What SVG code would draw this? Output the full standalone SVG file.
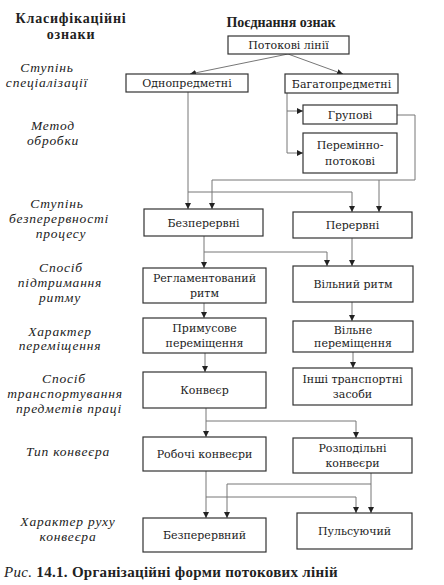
<svg xmlns="http://www.w3.org/2000/svg" width="444" height="585" viewBox="0 0 444 585">
<defs>
<marker id="ah" viewBox="0 0 10 10" refX="10" refY="5" markerWidth="6" markerHeight="6" orient="auto" markerUnits="userSpaceOnUse">
<path d="M0,0 L10,5 L0,10 Z" fill="#222"/>
</marker>
</defs>
<style>
.box{fill:#fff;stroke:#333;stroke-width:1.2}
.t{font-size:11px;fill:#222;text-anchor:middle}
.lab{font-size:13.5px;font-style:italic;fill:#222;text-anchor:middle;letter-spacing:0.8px}
.hd{font-size:14px;font-weight:bold;fill:#222;text-anchor:middle}
.c{fill:none;stroke:#777;stroke-width:1}
.a{marker-end:url(#ah)}
.cap{font-size:15px;fill:#222;letter-spacing:0.3px}
</style>
<rect width="444" height="585" fill="#fff"/>
<g id="headers" font-family="'Liberation Serif', serif">
<text class="hd" x="71" y="23" letter-spacing="0.8">Класифікаційні</text>
<text class="hd" x="71" y="39" letter-spacing="0.8">ознаки</text>
<text class="hd" x="281" y="27">Поєднання ознак</text>
</g>
<g id="labels" font-family="'Liberation Serif', serif">
<text class="lab" x="47" y="72">Ступінь</text>
<text class="lab" x="47" y="87">спеціалізації</text>
<text class="lab" x="53" y="130">Метод</text>
<text class="lab" x="53" y="145">обробки</text>
<text class="lab" x="57" y="208">Ступінь</text>
<text class="lab" x="59" y="223">безперервності</text>
<text class="lab" x="61" y="238">процесу</text>
<text class="lab" x="61" y="272">Спосіб</text>
<text class="lab" x="60" y="287">підтримання</text>
<text class="lab" x="60" y="302">ритму</text>
<text class="lab" x="60" y="336">Характер</text>
<text class="lab" x="60" y="350">переміщення</text>
<text class="lab" x="64" y="383">Спосіб</text>
<text class="lab" x="65" y="398">транспортування</text>
<text class="lab" x="69" y="413">предметів праці</text>
<text class="lab" x="68" y="456">Тип конвеєра</text>
<text class="lab" x="68" y="526">Характер руху</text>
<text class="lab" x="68" y="541">конвеєра</text>
</g>
<g id="connectors">
<path class="c a" d="M288,54 L190,74"/>
<path class="c a" d="M288,54 L343,74"/>
<path class="c" d="M287,93 V153"/>
<path class="c a" d="M287,111 H303"/>
<path class="c a" d="M287,153 H303"/>
<path class="c a" d="M188,92 V209"/>
<path class="c a" d="M188,192 H352 V212"/>
<path class="c a" d="M397,115 H415 V180 H212 V209"/>
<path class="c a" d="M379,180 V212"/>
<path class="c a" d="M204,236 V268"/>
<path class="c a" d="M204,252 H327 V266"/>
<path class="c a" d="M352,238 V266"/>
<path class="c a" d="M204,303 V318"/>
<path class="c a" d="M352,302 V321"/>
<path class="c a" d="M205,353 V372"/>
<path class="c a" d="M353,352 V368"/>
<path class="c a" d="M206,408 V437"/>
<path class="c a" d="M206,421 H356 V438"/>
<path class="c a" d="M206,471 V518"/>
<path class="c a" d="M206,497 H356 V513"/>
<path class="c a" d="M371,473 V513"/>
<path class="c a" d="M371,484 H227 V518"/>
</g>
<g id="nodes" font-family="'DejaVu Serif', 'Liberation Serif', serif">
<g id="n-potokovi"><rect class="box" x="228" y="36" width="121" height="18"/><text class="t" x="288.5" y="49">Потокові лінії</text></g>
<g id="n-odnopredmetni"><rect class="box" x="126" y="74" width="122" height="18"/><text class="t" x="187" y="87">Однопредметні</text></g>
<g id="n-bahatopredmetni"><rect class="box" x="285" y="74" width="113" height="19"/><text class="t" x="341.5" y="87.5">Багатопредметні</text></g>
<g id="n-hrupovi"><rect class="box" x="303" y="105" width="94" height="19"/><text class="t" x="350" y="118.5">Групові</text></g>
<g id="n-pereminno"><rect class="box" x="303" y="133" width="94" height="40"/><text class="t" x="350" y="149">Перемінно-</text><text class="t" x="350" y="165">потокові</text></g>
<g id="n-bezperervni"><rect class="box" x="144" y="209" width="119" height="27"/><text class="t" x="203.5" y="226.5">Безперервні</text></g>
<g id="n-perervni"><rect class="box" x="293" y="212" width="119" height="26"/><text class="t" x="352.5" y="229">Перервні</text></g>
<g id="n-rehlament"><rect class="box" x="143" y="268" width="123" height="35"/><text class="t" x="204.5" y="282">Регламентований</text><text class="t" x="204.5" y="297">ритм</text></g>
<g id="n-vilnyi-rytm"><rect class="box" x="293" y="266" width="120" height="36"/><text class="t" x="353" y="288">Вільний ритм</text></g>
<g id="n-prymusove"><rect class="box" x="143" y="318" width="123" height="35"/><text class="t" x="204.5" y="332">Примусове</text><text class="t" x="204.5" y="347">переміщення</text></g>
<g id="n-vilne"><rect class="box" x="293" y="321" width="120" height="31"/><text class="t" x="353" y="334">Вільне</text><text class="t" x="353" y="347">переміщення</text></g>
<g id="n-konveier"><rect class="box" x="143" y="372" width="123" height="36"/><text class="t" x="204.5" y="393.5">Конвеєр</text></g>
<g id="n-inshi"><rect class="box" x="293" y="368" width="119" height="37"/><text class="t" x="352.5" y="383">Інші транспортні</text><text class="t" x="352.5" y="398">засоби</text></g>
<g id="n-roboch"><rect class="box" x="143" y="437" width="123" height="34"/><text class="t" x="204.5" y="457.5">Робочі конвеєри</text></g>
<g id="n-rozpod"><rect class="box" x="293" y="438" width="119" height="35"/><text class="t" x="352.5" y="452">Розподільні</text><text class="t" x="352.5" y="467">конвеєри</text></g>
<g id="n-bezperervnyi"><rect class="box" x="143" y="518" width="123" height="34"/><text class="t" x="204.5" y="538.5">Безперервний</text></g>
<g id="n-pulsuiuchyi"><rect class="box" x="297" y="513" width="115" height="36"/><text class="t" x="354.5" y="534.5">Пульсуючий</text></g>
</g>
<g id="caption" font-family="'Liberation Serif', serif">
<text class="cap" x="4" y="577"><tspan font-style="italic">Рис.</tspan><tspan font-weight="bold"> 14.1. Організаційні форми потокових ліній</tspan></text>
</g>
</svg>
